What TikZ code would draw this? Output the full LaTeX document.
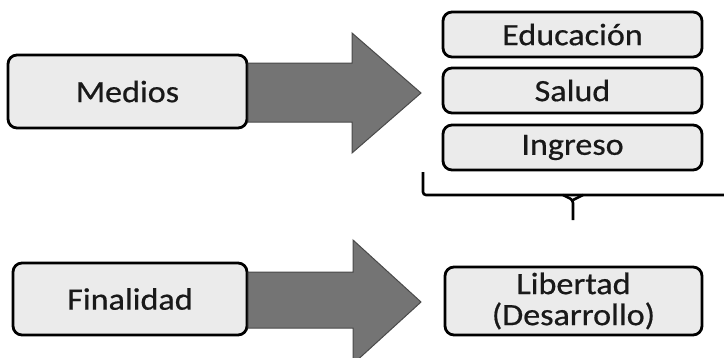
\documentclass[tikz,border=0pt]{standalone}
\usepackage{fontspec}
\setmainfont{Carlito}[FakeStretch=1.1,FakeBold=0.6]
\definecolor{boxfill}{HTML}{EBEBEB}
\definecolor{arrowfill}{HTML}{747474}
\definecolor{arrowline}{HTML}{4A4A4A}
\begin{document}
\begin{tikzpicture}[x=1pt,y=-1pt]
	\tikzset{
		itembox/.style={draw=black, line width=2.8pt, rounded corners=9pt, fill=boxfill,
			inner sep=0pt, align=center, font=\fontsize{31}{31}\selectfont, text=black!90},
		blockarrow/.style={fill=arrowfill, draw=arrowline, line width=1pt},
		bracket/.style={draw=black, line width=2.6pt, rounded corners=3pt}
	}
	\useasboundingbox (0,0) rectangle (724,357);
	% left column
	\node [itembox, minimum width=239pt, minimum height=73pt] (medios) at (127.5,91.5) {Medios};
	\node [itembox, minimum width=234pt, minimum height=72pt] (finalidad) at (130,299) {Finalidad};
	% right column
	\node [itembox, minimum width=259pt, minimum height=45pt] (educacion) at (572.5,34.5) {Educación};
	\node [itembox, minimum width=259pt, minimum height=45pt] (salud) at (572.5,90.5) {Salud};
	\node [itembox, minimum width=259pt, minimum height=45pt] (ingreso) at (572.5,147.5) {Ingreso};
	\node [itembox, minimum width=257pt, minimum height=68pt] (libertad) at (573.5,301) {Libertad\\(Desarrollo)};
	% arrows
	\draw [blockarrow] (248,63) -- (352,63) -- (352,33) -- (421,93) -- (352,153) -- (352,122) -- (248,122) -- cycle;
	\draw [blockarrow] (248,272) -- (353,272) -- (353,240) -- (421,302) -- (353,364) -- (353,328) -- (248,328) -- cycle;
	% bracket
	\draw [bracket] (423,172) -- (423,195) -- (726,195);
	\coordinate (spike) at (573,220);
	\draw [bracket] (563,195) -- (573,200) -- (spike);
	\draw [bracket] (583,195) -- (573,200);
\end{tikzpicture}
\end{document}
